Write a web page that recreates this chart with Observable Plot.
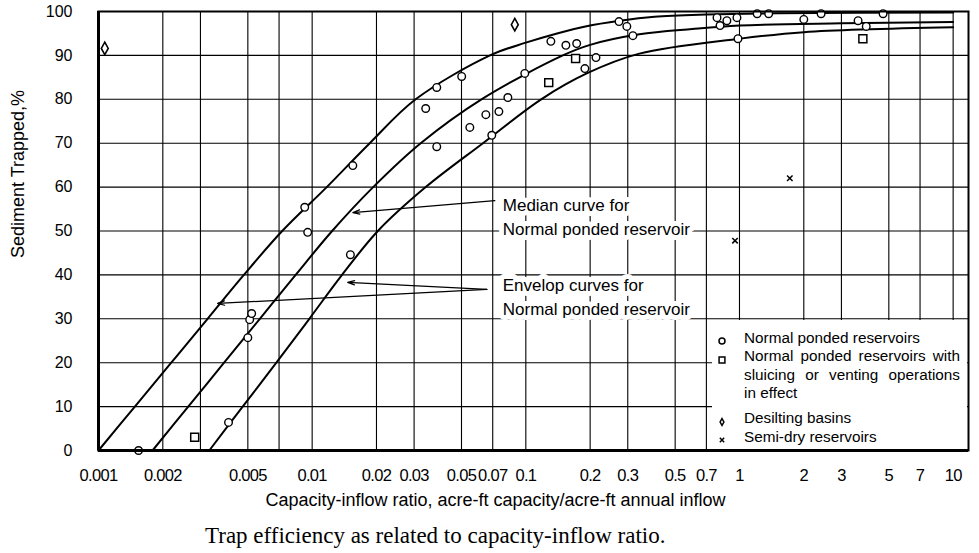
<!DOCTYPE html>
<html>
<head>
<meta charset="utf-8">
<script src="https://cdn.jsdelivr.net/npm/d3@7"></script>
<script src="https://cdn.jsdelivr.net/npm/@observablehq/plot@0.6"></script>
<style>
  body { margin: 0; background: #fff; }
  #wrap { position: relative; width: 979px; height: 553px; background: #fff; overflow: hidden; }
  #legend { position: absolute; left: 712px; top: 320px; width: 255px; height: 129px; background: #fff;
            font-family: "Liberation Sans", Arial, sans-serif; font-size: 15.3px; color: #000; }
  #legend .ll { position: absolute; left: 32px; width: 216px; height: 18.5px; line-height: 18.5px; white-space: nowrap; }
  #legend .j { text-align: justify; text-align-last: justify; }
  #legend svg { position: absolute; left: 2px; overflow: visible; }
  #caption { position: absolute; left: 205px; top: 523px; font-family: "Liberation Serif", "Times New Roman", serif;
             font-size: 23px; color: #000; white-space: nowrap; }
  .xtick text { letter-spacing: -0.7px; }
</style>
</head>
<body>
<div id="wrap"></div>
<script>
// ---------- data ----------
const xTickValues = [0.001, 0.002, 0.005, 0.01, 0.02, 0.03, 0.05, 0.07, 0.1, 0.2, 0.3, 0.5, 0.7, 1, 2, 3, 5, 7, 10];
const xGridValues = [0.002, 0.003, 0.005, 0.007, 0.01, 0.02, 0.03, 0.05, 0.07, 0.1, 0.2, 0.3, 0.5, 0.7, 1, 2, 3, 5, 7, 10];
const yTickValues = [0, 10, 20, 30, 40, 50, 60, 70, 80, 90, 100];

// curves (capacity-inflow ratio, % trapped)
const upperX  = [0.001, 0.00148, 0.00219, 0.00324, 0.00479, 0.00724, 0.0117, 0.0186, 0.0305, 0.068, 0.1, 0.14, 0.19, 0.275, 0.4, 0.7, 1.5, 10];
const upperY  = [0, 10, 20, 30, 40, 50, 60, 70, 80, 90, 92.9, 95, 96.6, 97.9, 98.8, 99.3, 99.6, 99.8];
const medianX = [0.00179, 0.00263, 0.00387, 0.00569, 0.00837, 0.0124, 0.0193, 0.0322, 0.062, 0.149, 0.2, 0.34, 0.6, 1.0, 3, 10];
const medianY = [0, 10, 20, 30, 40, 50, 60, 70, 80, 90, 92.4, 94.8, 96, 96.8, 97.3, 97.6];
const lowerX  = [0.0033, 0.00473, 0.0068, 0.0097, 0.0138, 0.0203, 0.034, 0.063, 0.118, 0.195, 0.34, 1.0, 2, 10];
const lowerY  = [0, 10, 20, 30, 40, 50, 60, 70, 80, 86, 90.4, 93.8, 95.3, 96.4];

// Normal ponded reservoirs (circles)
const normalX = [0.00154, 0.00406, 0.0050, 0.0051, 0.00521, 0.00923, 0.00953, 0.0151, 0.0155, 0.034, 0.0383, 0.0383, 0.0501, 0.0547, 0.065, 0.0693, 0.0748, 0.0824, 0.0989, 0.131, 0.154, 0.173, 0.189, 0.213, 0.273, 0.297, 0.317, 0.785, 0.811, 0.873, 0.973, 0.984, 1.21, 1.37, 2.0, 2.41, 3.59, 3.92, 4.70];
const normalY = [0, 6.4, 25.7, 29.8, 31.2, 55.4, 49.7, 44.6, 64.9, 77.9, 82.7, 69.2, 85.2, 73.6, 76.5, 71.8, 77.2, 80.4, 85.9, 93.2, 92.3, 92.7, 87.0, 89.5, 97.7, 96.6, 94.5, 98.6, 96.8, 97.9, 98.6, 93.8, 99.5, 99.5, 98.2, 99.5, 97.9, 96.6, 99.5];
// Normal ponded reservoirs with sluicing / venting (squares)
const sluiceX = [0.00282, 0.128, 0.171, 3.78];
const sluiceY = [3.0, 83.8, 89.3, 93.8];
// Desilting basins (diamonds)
const desiltX = [0.00107, 0.0888];
const desiltY = [91.6, 97.0];
// Semi-dry reservoirs (x)
const semiX = [1.72, 0.953];
const semiY = [62.0, 47.8];

// annotations
const annoText = ["Median curve for\nNormal ponded reservoir", "Envelop curves for\nNormal ponded reservoir"];
const annoX = [0.078, 0.078];
const annoY = [53.5, 35.4];
const arrowFromX = [0.0716, 0.0657, 0.0657];
const arrowFromY = [56.9, 36.7, 36.7];
const arrowToX   = [0.0155, 0.01466, 0.00361];
const arrowToY   = [54.2, 38.3, 33.5];

const xTitle = "Capacity-inflow ratio, acre-ft capacity/acre-ft annual inflow";
const yTitle = "Sediment Trapped,%";
const captionText = "Trap efficiency as related to capacity-inflow ratio.";

const legendLabels = [
  ["Normal ponded reservoirs"],
  ["Normal ponded reservoirs with", "sluicing or venting operations", "in effect"],
  ["Desilting basins"],
  ["Semi-dry reservoirs"]
];

// ---------- build ----------
const tallDiamond = {
  draw(ctx, size) {
    const r = Math.sqrt(size / Math.PI);
    const w = r * 0.72, h = r * 1.3;
    ctx.moveTo(0, -h); ctx.lineTo(w, 0); ctx.lineTo(0, h); ctx.lineTo(-w, 0); ctx.closePath();
  }
};
const legendSymbols = [d3.symbolCircle, d3.symbolSquare, tallDiamond, d3.symbolTimes];

const curveRows = [
  ...upperX.map((x, i) => ({x, y: upperY[i], c: "upper"})),
  ...medianX.map((x, i) => ({x, y: medianY[i], c: "median"})),
  ...lowerX.map((x, i) => ({x, y: lowerY[i], c: "lower"}))
];
const pts = (X, Y) => X.map((x, i) => ({x, y: Y[i]}));
const annoRows = annoText.map((t, i) => ({t, x: annoX[i], y: annoY[i]}));
const arrowRows = arrowFromX.map((x1, i) => ({x1, y1: arrowFromY[i], x2: arrowToX[i], y2: arrowToY[i]}));

const font = "'Liberation Sans', Arial, Helvetica, sans-serif";
const chart = Plot.plot({
  width: 979,
  height: 520,
  marginLeft: 98,
  marginRight: 11,
  marginTop: 11,
  marginBottom: 70,
  style: {fontFamily: font, fontSize: "16px", color: "#000", background: "#fff", overflow: "visible"},
  x: {type: "log", domain: [0.001, 11.8], axis: null},
  y: {domain: [0, 100], axis: null},
  marks: [
    Plot.ruleX(xGridValues, {stroke: "#000", strokeWidth: 1.1}),
    Plot.ruleY(yTickValues, {stroke: "#000", strokeWidth: 1.1}),
    Plot.line(curveRows, {x: "x", y: "y", z: "c", curve: "catmull-rom", stroke: "#000", strokeWidth: 2}),
    Plot.arrow(arrowRows, {x1: "x1", y1: "y1", x2: "x2", y2: "y2", stroke: "#000", strokeWidth: 1.2, headLength: 9, headAngle: 35}),
    Plot.text(annoRows, {x: "x", y: "y", text: "t", textAnchor: "start", fontSize: 17, lineHeight: 1.41,
      fill: "#000", stroke: "#fff", strokeWidth: 10}),
    Plot.dot(pts(normalX, normalY), {x: "x", y: "y", r: 3.8, symbol: "circle", stroke: "#000", strokeWidth: 1.4, fill: "#fff"}),
    Plot.dot(pts(sluiceX, sluiceY), {x: "x", y: "y", r: 4.5, symbol: "square", stroke: "#000", strokeWidth: 1.5, fill: "#fff"}),
    Plot.dot(pts(desiltX, desiltY), {x: "x", y: "y", r: 4.8, symbol: tallDiamond, stroke: "#000", strokeWidth: 1.6, fill: "#fff"}),
    Plot.dot(pts(semiX, semiY), {x: "x", y: "y", r: 2.6, symbol: "times", stroke: "#000", strokeWidth: 1.5}),
    Plot.frame({stroke: "#000", strokeWidth: 2}),
    Plot.ruleX([0.001], {stroke: "#000", strokeWidth: 3}),
    Plot.ruleY([0], {stroke: "#000", strokeWidth: 3}),
    // x tick labels
    Plot.text(xTickValues, {x: d => d, frameAnchor: "bottom", lineAnchor: "top", dy: 19, fontSize: 16.5,
      text: d => String(d), fill: "#000", className: "xtick"}),
    // y tick labels
    Plot.text(yTickValues, {y: d => d, frameAnchor: "left", textAnchor: "end", dx: -26, fontSize: 16,
      text: d => String(d), fill: "#000"}),
    Plot.text([xTitle], {frameAnchor: "bottom", dy: 55, dx: -38, fontSize: 18, fill: "#000"}),
    Plot.text([yTitle], {frameAnchor: "left", rotate: -90, dx: -80, dy: 27, fontSize: 18, fill: "#000"})
  ]
});

const wrap = document.getElementById("wrap");
wrap.appendChild(chart);

// legend (HTML overlay, white box)
const legendBox = document.createElement("div");
legendBox.id = "legend";
const svgns = "http://www.w3.org/2000/svg";
const symSizes = [28, 34, 22, 14];
let rowTop = 8.75;
legendLabels.forEach((lines, k) => {
  if (k === 2) rowTop += 6.5;
  const s = document.createElementNS(svgns, "svg");
  s.setAttribute("width", 16); s.setAttribute("height", 16);
  s.style.top = (rowTop + 9.25 - 8 + 3) + "px";
  const p = document.createElementNS(svgns, "path");
  p.setAttribute("d", d3.symbol(legendSymbols[k], symSizes[k])());
  p.setAttribute("transform", "translate(8,8)");
  p.setAttribute("fill", k === 3 ? "none" : "#fff");
  p.setAttribute("stroke", "#000");
  p.setAttribute("stroke-width", 1.5);
  s.appendChild(p);
  legendBox.appendChild(s);
  lines.forEach((ln, j) => {
    const d = document.createElement("div");
    d.className = "ll" + (lines.length > 1 && j < lines.length - 1 ? " j" : "");
    d.style.top = rowTop + "px";
    d.textContent = ln;
    legendBox.appendChild(d);
    rowTop += 18.5;
  });
});
wrap.appendChild(legendBox);

const cap = document.createElement("div");
cap.id = "caption";
cap.textContent = captionText;
wrap.appendChild(cap);
</script>
</body>
</html>
